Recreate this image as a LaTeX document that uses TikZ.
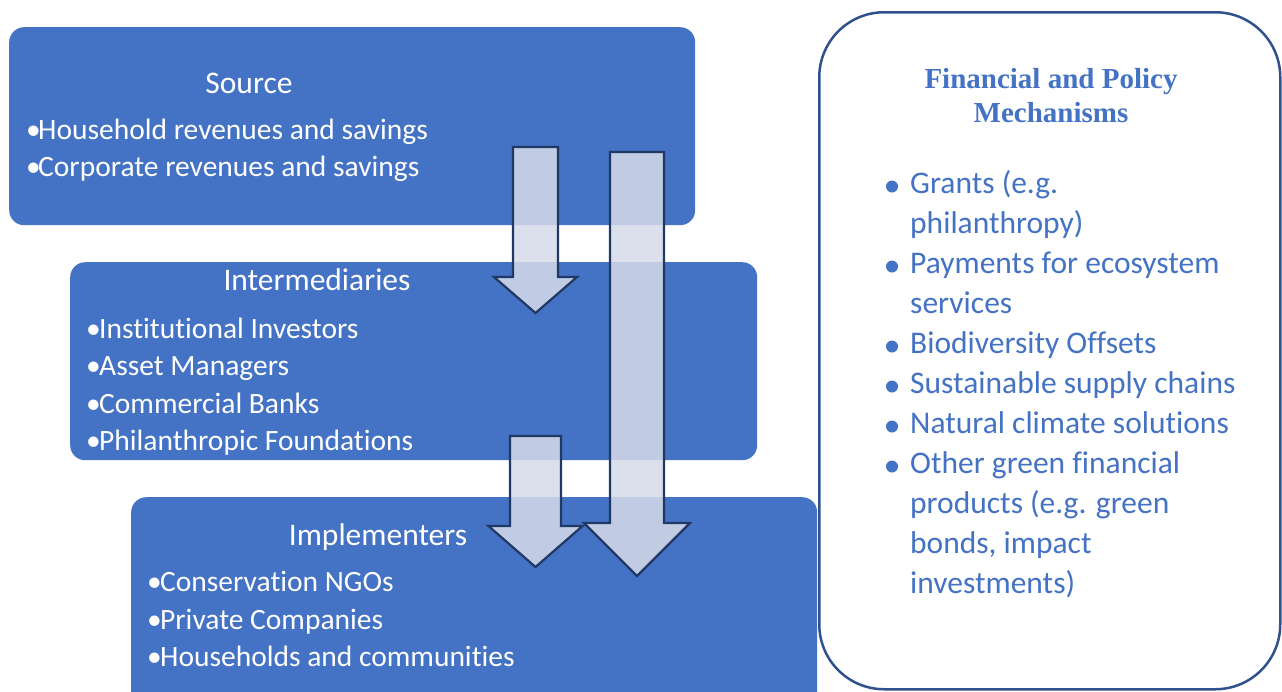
\documentclass[tikz,border=0pt]{standalone}
\usepackage{fontspec}
\setmainfont{Carlito}[Ligatures={NoCommon}]
\newfontfamily\headserif{Liberation Serif}
\definecolor{boxblue}{HTML}{4472C4}
\definecolor{rimblue}{HTML}{2F528F}
\definecolor{arrowfill}{HTML}{D6DBEA}
\definecolor{arrowrim}{HTML}{203864}
\tikzset{
  stage/.style={fill=boxblue, rounded corners=15pt, inner sep=0pt, anchor=north west},
  head/.style={text=white, anchor=base, inner sep=0pt, font=\fontsize{31.5}{38}\selectfont},
  item/.style={text=white, anchor=base west, inner sep=0pt, font=\fontsize{29.5}{37.5}\selectfont},
  flow/.style={fill=arrowfill, fill opacity=0.86, draw=arrowrim, line width=2.2pt, line join=miter},
  mech/.style={text=boxblue, anchor=base west, inner sep=0pt, font=\fontsize{31.5}{40}\selectfont},
  dot/.style={circle, fill=boxblue, inner sep=0pt, minimum size=12pt}
}

\begin{document}
\begin{tikzpicture}[x=1pt,y=-1pt]

  \useasboundingbox (0,0) rectangle (1282,691);
  \clip (0,0) rectangle (1282,691);

  %% block arrow: centre x, top, base of head, tip, half shaft, half head
  \newcommand\blockarrow[6]{%
    \draw[flow] (#1-#5,#2) -- (#1+#5,#2) -- (#1+#5,#3) -- (#1+#6,#3) -- (#1,#4)
      -- (#1-#6,#3) -- (#1-#5,#3) -- cycle;}

  %% the three stages
  \node[stage, minimum width=686pt, minimum height=198pt] (source) at (9,27) {};
  \node[stage, minimum width=687pt, minimum height=198pt] (inter) at (70,262) {};
  \node[stage, minimum width=686pt, minimum height=220pt] (impl) at (131,497) {};

  \node[head] (source-t) at (249,93) {Source};
  \foreach \entry [count=\i] in {Household revenues and savings, Corporate revenues and savings} {
    \node[item] (source-b\i) at (26, 101.5+37.5*\i) {•};
    \node[item] (source-\i) at (38, 101.5+37.5*\i) {\entry};
  }

  \node[head] (inter-t) at (317,290) {Intermediaries};
  \foreach \entry [count=\i] in {Institutional Investors, Asset Managers, Commercial Banks, Philanthropic Foundations} {
    \node[item] (inter-b\i) at (86, 300.5+37.5*\i) {•};
    \node[item] (inter-\i) at (99, 300.5+37.5*\i) {\entry};
  }

  \node[head] (impl-t) at (378,545) {Implementers};
  \foreach \entry [count=\i] in {Conservation NGOs, Private Companies, Households and communities} {
    \node[item] (impl-b\i) at (147, 554+37.5*\i) {•};
    \node[item] (impl-\i) at (160, 554+37.5*\i) {\entry};
  }

  %% flows down
  \blockarrow{535.5}{147}{277}{313}{22.5}{41.5} %% source -> intermediaries
  \blockarrow{535.5}{436}{526}{567}{25.5}{47}   %% intermediaries -> implementers
  \blockarrow{637}{152}{523}{576}{27}{53}       %% source -> implementers

  %% mechanisms panel
  \node[draw=rimblue, line width=2.5pt, fill=white, rounded corners=65pt, inner sep=0pt,
        minimum width=461pt, minimum height=677pt, anchor=north west] (mechbox) at (818,11) {};
  \node[text=boxblue, anchor=base, inner sep=0pt, font=\headserif\bfseries\fontsize{29}{34}\selectfont]
    (mech-t1) at (1051,88) {Financial and Policy};
  \node[text=boxblue, anchor=base, inner sep=0pt, font=\headserif\bfseries\fontsize{29}{34}\selectfont]
    (mech-t2) at (1051,122) {Mechanisms};

  \foreach \entry [count=\i] in {Grants (e.g., philanthropy), Payments for ecosystem, services,
      Biodiversity Offsets, Sustainable supply chains, Natural climate solutions,
      Other green financial, products (e.g. green, {bonds, impact}, investments)}
    \node[mech] (mech-\i) at (910, 153+40*\i) {\entry};
  \foreach \i in {1,3,5,6,7,8}
    \node[dot] (dot-\i) at (892, 146.5+40*\i) {};

\end{tikzpicture}
\end{document}
